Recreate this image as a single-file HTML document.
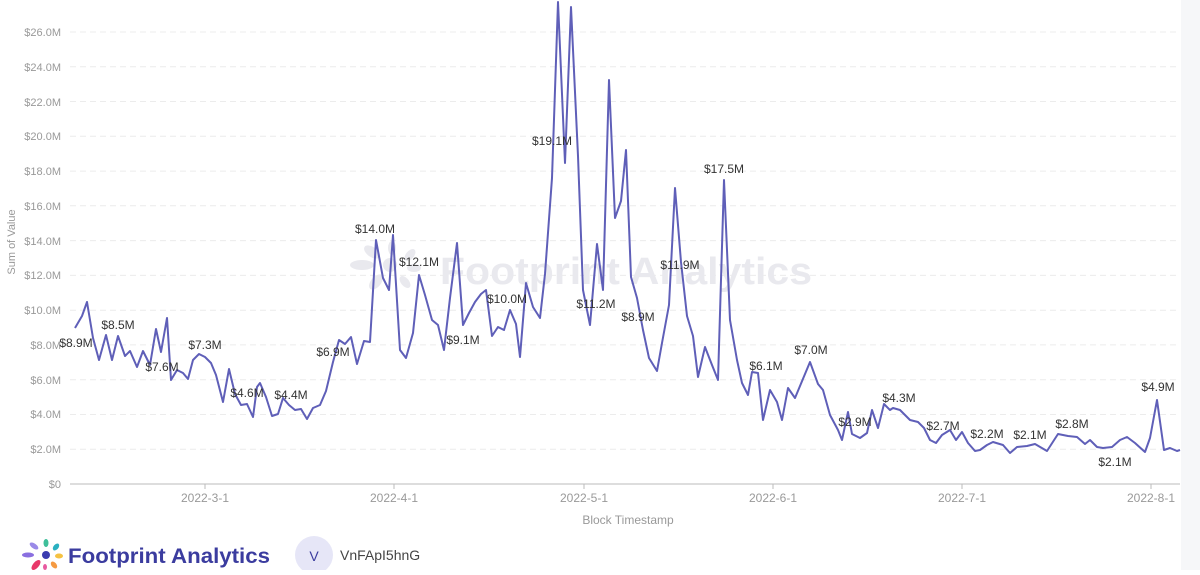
<!DOCTYPE html>
<html><head><meta charset="utf-8"><style>
body{margin:0;background:#fff;width:1200px;height:570px;overflow:hidden;font-family:"Liberation Sans",sans-serif}
</style></head><body>
<svg width="1200" height="570" xmlns="http://www.w3.org/2000/svg" font-family="Liberation Sans, sans-serif">
<rect x="1181" y="0" width="19" height="570" fill="#f6f7f9"/>
<g stroke="#ececec" stroke-dasharray="6,4" stroke-width="1">
<line x1="70" x2="1180" y1="449.2" y2="449.2"/><line x1="70" x2="1180" y1="414.5" y2="414.5"/><line x1="70" x2="1180" y1="379.7" y2="379.7"/><line x1="70" x2="1180" y1="344.9" y2="344.9"/><line x1="70" x2="1180" y1="310.2" y2="310.2"/><line x1="70" x2="1180" y1="275.4" y2="275.4"/><line x1="70" x2="1180" y1="240.6" y2="240.6"/><line x1="70" x2="1180" y1="205.8" y2="205.8"/><line x1="70" x2="1180" y1="171.1" y2="171.1"/><line x1="70" x2="1180" y1="136.3" y2="136.3"/><line x1="70" x2="1180" y1="101.5" y2="101.5"/><line x1="70" x2="1180" y1="66.8" y2="66.8"/><line x1="70" x2="1180" y1="32" y2="32"/>
</g>
<line x1="70" x2="1180" y1="484" y2="484" stroke="#bbb"/>
<g stroke="#bbb"><line x1="205" x2="205" y1="484" y2="489"/><line x1="394" x2="394" y1="484" y2="489"/><line x1="584" x2="584" y1="484" y2="489"/><line x1="773" x2="773" y1="484" y2="489"/><line x1="962" x2="962" y1="484" y2="489"/><line x1="1151" x2="1151" y1="484" y2="489"/></g>
<g fill="#e9e9ee">
<circle cx="390" cy="265" r="7"/><ellipse cx="362" cy="265" rx="12" ry="5"/><ellipse cx="372" cy="252" rx="9" ry="5" transform="rotate(35 372 252)"/><ellipse cx="392" cy="248" rx="4" ry="7"/><ellipse cx="410" cy="255" rx="4" ry="7" transform="rotate(40 410 255)"/><ellipse cx="414" cy="268" rx="7" ry="4"/><ellipse cx="405" cy="282" rx="4" ry="7" transform="rotate(-40 405 282)"/><ellipse cx="376" cy="282" rx="5" ry="9" transform="rotate(40 376 282)"/>
</g>
<text x="440" y="284" font-size="38" font-weight="bold" fill="#e9e9ee" textLength="372" lengthAdjust="spacingAndGlyphs">Footprint Analytics</text>
<g font-size="11" fill="#999" text-anchor="end">
<text x="61" y="488">$0</text><text x="61" y="453">$2.0M</text><text x="61" y="418">$4.0M</text><text x="61" y="384">$6.0M</text><text x="61" y="349">$8.0M</text><text x="61" y="314">$10.0M</text><text x="61" y="279">$12.0M</text><text x="61" y="245">$14.0M</text><text x="61" y="210">$16.0M</text><text x="61" y="175">$18.0M</text><text x="61" y="140">$20.0M</text><text x="61" y="106">$22.0M</text><text x="61" y="71">$24.0M</text><text x="61" y="36">$26.0M</text>
</g>
<g font-size="12" fill="#999" text-anchor="middle">
<text x="205" y="502">2022-3-1</text><text x="394" y="502">2022-4-1</text><text x="584" y="502">2022-5-1</text><text x="773" y="502">2022-6-1</text><text x="962" y="502">2022-7-1</text><text x="1151" y="502">2022-8-1</text>
<text x="628" y="524">Block Timestamp</text>
<text transform="translate(15,242) rotate(-90)" font-size="11">Sum of Value</text>
</g>
<polyline fill="none" stroke="#5f5fb8" stroke-width="2" stroke-linejoin="round" points="75,328 82,316 87,302 93,338 99,360 106,335 112,360 118,336 125,356 130,351 137,367 143,351 150,365 156,329 161,352 167,318 171,380 177,370 183,373 188,379 193,360 199,354 205,357 211,363 216,375 223,402 229,369 235,394 241,405 247,404 253,417 257,387 260,383 266,397 272,416 278,414 283,398 289,405 295,410 301,409 307,419 313,408 320,405 326,391 333,362 339,340 345,344 351,337 357,364 364,341 370,342 376,240 383,278 389,290 393,235 400,350 406,358 413,333 419,275 425,295 432,320 438,325 444,350 450,298 457,243 463,325 469,313 475,302 481,294 486,290 492,336 498,327 504,330 510,310 516,324 520,357 526,283 533,307 540,318 545,274 552,178 558,2 565,163 571,7 578,156 583,290 590,325 597,244 603,290 609,80 615,218 621,201 626,150 631,277 637,298 643,330 649,358 657,371 662,343 669,305 675,188 681,262 687,316 693,336 698,377 705,347 712,365 718,380 724,180 730,320 737,360 742,383 748,395 752,372 758,373 763,420 770,390 777,402 782,420 788,388 795,398 810,362 818,384 823,390 830,415 838,430 842,440 848,412 852,434 860,438 867,433 872,410 878,428 884,404 890,410 893,408 900,410 910,420 918,422 924,428 930,440 936,443 942,435 950,430 956,440 962,432 968,443 975,451 980,450 987,445 993,442 1003,445 1010,453 1017,447 1027,446 1035,444 1047,451 1058,434 1068,436 1077,437 1085,444 1090,440 1097,447 1103,448 1112,447 1120,440 1127,437 1135,443 1145,452 1150,438 1157,400 1164,450 1170,448 1177,451 1180,450"/>
<g font-size="12" fill="#333" text-anchor="middle">
<text x="76" y="347">$8.9M</text><text x="118" y="329">$8.5M</text><text x="162" y="371">$7.6M</text><text x="205" y="349">$7.3M</text><text x="247" y="397">$4.6M</text><text x="291" y="399">$4.4M</text><text x="333" y="356">$6.9M</text><text x="375" y="233">$14.0M</text><text x="419" y="266">$12.1M</text><text x="463" y="344">$9.1M</text><text x="507" y="303">$10.0M</text><text x="552" y="145">$19.1M</text><text x="596" y="308">$11.2M</text><text x="638" y="321">$8.9M</text><text x="680" y="269">$11.9M</text><text x="724" y="173">$17.5M</text><text x="766" y="370">$6.1M</text><text x="811" y="354">$7.0M</text><text x="855" y="426">$2.9M</text><text x="899" y="402">$4.3M</text><text x="943" y="430">$2.7M</text><text x="987" y="438">$2.2M</text><text x="1030" y="439">$2.1M</text><text x="1072" y="428">$2.8M</text><text x="1115" y="466">$2.1M</text><text x="1158" y="391">$4.9M</text>
</g>
<g transform="translate(20,538)">
<circle cx="26" cy="17" r="4" fill="#3b3cb0"/>
<ellipse cx="8" cy="17" rx="6" ry="2.5" fill="#8a6fe0"/>
<ellipse cx="14" cy="8" rx="5" ry="2.5" fill="#9a8ae8" transform="rotate(35 14 8)"/>
<ellipse cx="26" cy="5" rx="2.5" ry="4" fill="#3fbf9a"/>
<ellipse cx="36" cy="9" rx="2.5" ry="4" fill="#2ab0c0" transform="rotate(40 36 9)"/>
<ellipse cx="39" cy="18" rx="4" ry="2.5" fill="#f5c242"/>
<ellipse cx="34" cy="27" rx="2.5" ry="4" fill="#f59a42" transform="rotate(-40 34 27)"/>
<ellipse cx="16" cy="27" rx="3" ry="6" fill="#e8386a" transform="rotate(40 16 27)"/>
<ellipse cx="25" cy="29" rx="2" ry="3" fill="#e85aa0"/>
</g>
<text x="68" y="563" font-size="21" font-weight="bold" fill="#3b3c9f" textLength="202" lengthAdjust="spacingAndGlyphs">Footprint Analytics</text>
<circle cx="314" cy="555" r="19" fill="#e6e6f7"/>
<text x="314" y="561" font-size="14" fill="#3b3c9f" text-anchor="middle">V</text>
<text x="340" y="560" font-size="14" fill="#444">VnFApI5hnG</text>
</svg>
</body></html>
